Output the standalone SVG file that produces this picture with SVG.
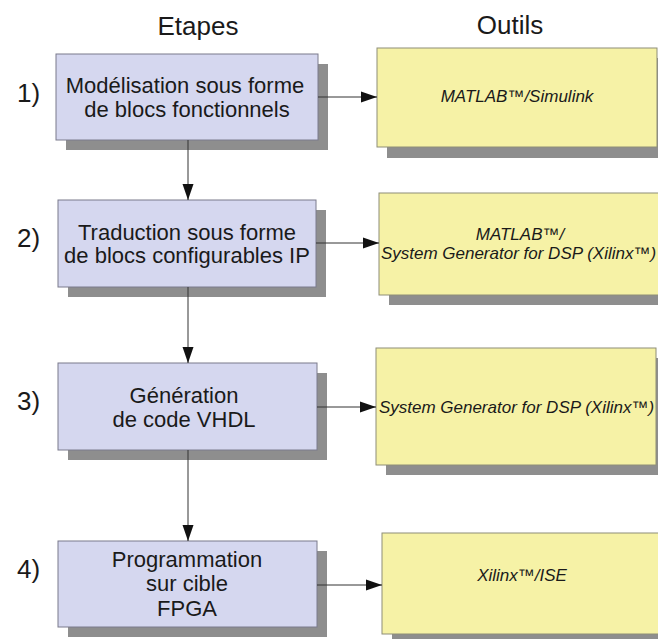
<svg xmlns="http://www.w3.org/2000/svg" width="658" height="639" viewBox="0 0 658 639">
<style>
.bg{fill:#ffffff}
.sh{fill:#8e8e8e}
.step{fill:#d5d7ef;stroke:#7a7a8c;stroke-width:1}
.tool{fill:#f6f2a6;stroke:#8e8e78;stroke-width:1}
.t{font-family:"Liberation Sans",Arial,sans-serif;fill:#1a1a1a;text-anchor:middle}
.st{font-size:22px}
.num{font-size:26px;text-anchor:start}
.hd{font-size:26px}
.tl{font-size:17px;font-style:italic}
.c{stroke:#333333;stroke-width:1;fill:none;marker-end:url(#ah)}
</style>
<defs>
<marker id="ah" markerUnits="userSpaceOnUse" markerWidth="16" markerHeight="12" refX="16" refY="6" orient="auto">
<path d="M0,0.5 L16,6 L0,11.5 Z" fill="#111111"/>
</marker>
</defs>
<rect class="bg" x="0" y="0" width="658" height="639"/>
<g id="headers">
<text class="t hd" x="198" y="35">Etapes</text>
<text class="t hd" x="510" y="34">Outils</text>
</g>
<g id="numbers">
<text class="t num" x="17" y="102">1)</text>
<text class="t num" x="17" y="247">2)</text>
<text class="t num" x="17" y="410">3)</text>
<text class="t num" x="17" y="578">4)</text>
</g>
<g id="step1">
<rect class="sh" x="66" y="64" width="262" height="86"/>
<rect class="step" x="56" y="54" width="262" height="86"/>
<text class="t st" x="185" y="93">Modélisation sous forme</text>
<text class="t st" x="187" y="117">de blocs fonctionnels</text>
</g>
<g id="step2">
<rect class="sh" x="68" y="210" width="258" height="87"/>
<rect class="step" x="58" y="200" width="258" height="87"/>
<text class="t st" x="187" y="240">Traduction sous forme</text>
<text class="t st" x="187" y="263">de blocs configurables IP</text>
</g>
<g id="step3">
<rect class="sh" x="68" y="373" width="259" height="87"/>
<rect class="step" x="58" y="363" width="259" height="87"/>
<text class="t st" x="184" y="403">Génération</text>
<text class="t st" x="184" y="427">de code VHDL</text>
</g>
<g id="step4">
<rect class="sh" x="68" y="551" width="259" height="86"/>
<rect class="step" x="58" y="541" width="259" height="86"/>
<text class="t st" x="187" y="567">Programmation</text>
<text class="t st" x="187" y="591">sur cible</text>
<text class="t st" x="187" y="616">FPGA</text>
</g>
<g id="tool1">
<rect class="sh" x="387" y="58" width="280" height="100"/>
<rect class="tool" x="377" y="48" width="280" height="99"/>
<text class="t tl" x="517" y="102">MATLAB™/Simulink</text>
</g>
<g id="tool2">
<rect class="sh" x="389" y="203" width="280" height="102"/>
<rect class="tool" x="379" y="193" width="280" height="102"/>
<text class="t tl" x="520" y="240">MATLAB™/</text>
<text class="t tl" x="518.5" y="259">System Generator for DSP (Xilinx™)</text>
</g>
<g id="tool3">
<rect class="sh" x="386" y="358" width="280" height="117"/>
<rect class="tool" x="376" y="348" width="280" height="117"/>
<text class="t tl" x="516.5" y="413">System Generator for DSP (Xilinx™)</text>
</g>
<g id="tool4">
<rect class="sh" x="392" y="543" width="280" height="101"/>
<rect class="tool" x="382" y="533" width="280" height="101"/>
<text class="t tl" x="522" y="581">Xilinx™/ISE</text>
</g>
<g id="connectors">
<line class="c" x1="188" y1="140" x2="188" y2="200"/>
<line class="c" x1="188" y1="287" x2="188" y2="363"/>
<line class="c" x1="188" y1="450" x2="188" y2="541"/>
<line class="c" x1="318" y1="97" x2="377" y2="97"/>
<line class="c" x1="316" y1="243" x2="379" y2="243"/>
<line class="c" x1="317" y1="407" x2="376" y2="407"/>
<line class="c" x1="317" y1="585" x2="382" y2="585"/>
</g>
</svg>
